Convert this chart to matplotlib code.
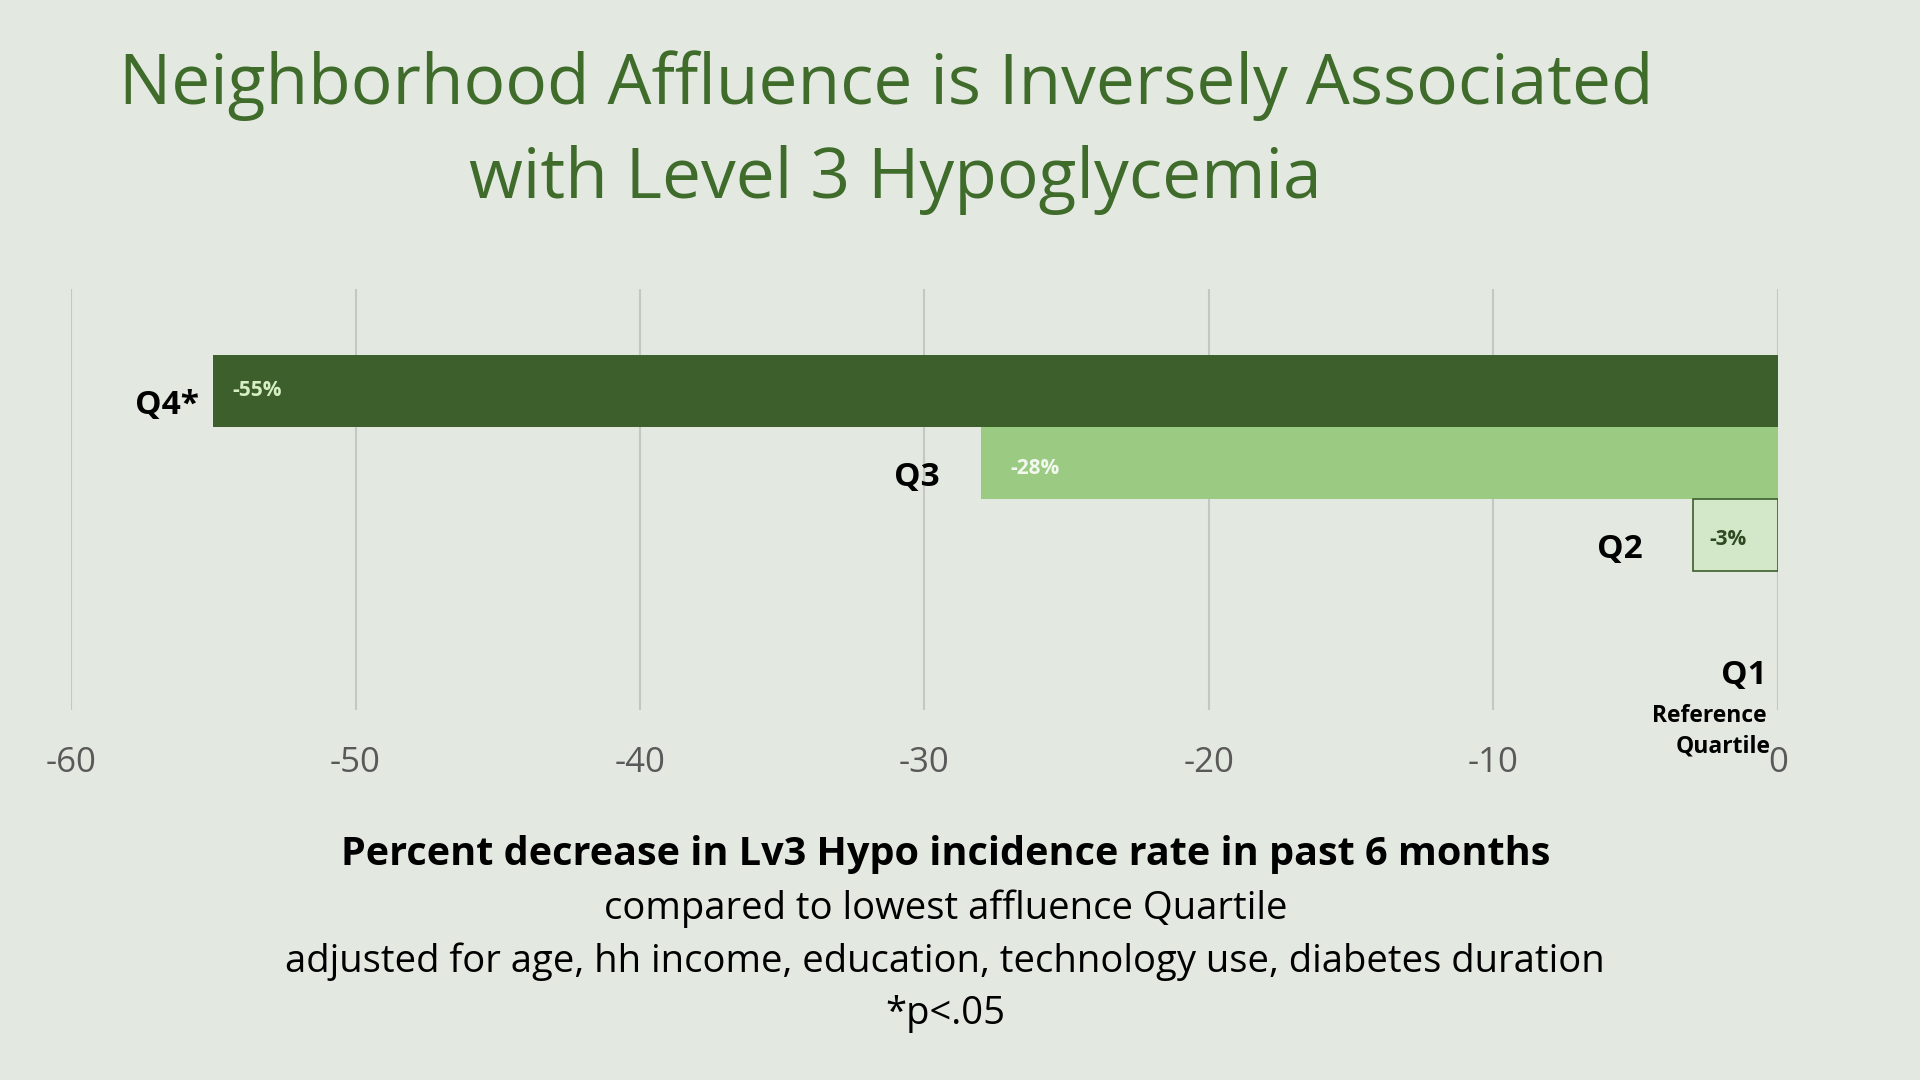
import matplotlib.pyplot as plt

# data
quartiles = ['Q4*', 'Q3', 'Q2', 'Q1']
pct_change = [-55, -28, -3, 0]
value_labels = ['-55%', '-28%', '-3%', '']
ticks = [-60, -50, -40, -30, -20, -10, 0]

bg = '#e3e9e1'
bar_colors = ['#3d5f2b', '#9bcb83', '#d3e8c8', '#d3e8c8']
text_colors = ['#d6efc4', '#f2f8ee', '#2f4a22', '#2f4a22']

plt.rcParams['font.family'] = ['Open Sans', 'DejaVu Sans']

fig = plt.figure(figsize=(19.2, 10.8), dpi=100, facecolor=bg)

# reference is 1568x882, map pixel positions to figure fractions
W, H = 1568.0, 882.0
def fx(px):
    return px / W
def fy(py):
    return 1 - py / H

ax = fig.add_axes([fx(58), fy(580), fx(1452) - fx(58), fy(236) - fy(580)])
ax.set_facecolor(bg)

ypos = list(range(len(quartiles)))
for i in ypos:
    edge = '#3d5f2b' if i == 2 else 'none'
    ax.barh(i, pct_change[i], height=1.0, color=bar_colors[i],
            edgecolor=edge, linewidth=1.2, zorder=3)

ax.set_xlim(-60, 0)
ax.set_ylim(4.42, -1.41)
ax.set_xticks(ticks)
ax.set_xticklabels([str(t) for t in ticks], fontsize=25, color='#595959')
ax.tick_params(axis='x', length=0, pad=26)
ax.set_yticks([])
ax.grid(axis='x', color='#c4c8c2', linewidth=1.5, zorder=0)
for s in ax.spines.values():
    s.set_visible(False)

# value labels inside the bars
val_off = [14, 21, 12]
val_dy = [0, -4, -3]
for i in range(3):
    ax.annotate(value_labels[i], xy=(pct_change[i], i), xytext=(val_off[i], val_dy[i]),
                textcoords='offset points', ha='left', va='center',
                fontsize=15, fontweight='bold', color=text_colors[i], zorder=4)

# quartile names left of each bar
name_off = [-10, -30, -36]
for i in range(3):
    ax.annotate(quartiles[i], xy=(pct_change[i], i + 0.2), xytext=(name_off[i], 0),
                textcoords='offset points', ha='right', va='center',
                fontsize=24, fontweight='bold', color='black')

ax.annotate(quartiles[3], xy=(0, 3), xytext=(-8, -49), textcoords='offset points',
            ha='right', va='center', fontsize=24, fontweight='bold', color='black')
ax.annotate('Reference', xy=(0, 3), xytext=(-8, -78), textcoords='offset points',
            ha='right', va='center', fontsize=16.5, fontweight='bold', color='black')
ax.annotate('Quartile', xy=(0, 3), xytext=(-5, -100), textcoords='offset points',
            ha='right', va='center', fontsize=16.5, fontweight='bold', color='black')

# title
title_color = '#3f6b2b'
fig.text(fx(724), fy(70), 'Neighborhood Affluence is Inversely Associated',
         ha='center', va='center', fontsize=50, color=title_color)
fig.text(fx(731), fy(147), 'with Level 3 Hypoglycemia',
         ha='center', va='center', fontsize=50, color=title_color)

# axis caption
fig.text(fx(772), fy(698), 'Percent decrease in Lv3 Hypo incidence rate in past 6 months',
         ha='center', va='center', fontsize=28.5, fontweight='bold', color='black')
fig.text(fx(772), fy(742), 'compared to lowest affluence Quartile',
         ha='center', va='center', fontsize=27.5, color='black')
fig.text(fx(772), fy(785), 'adjusted for age, hh income, education, technology use, diabetes duration',
         ha='center', va='center', fontsize=27.5, color='black')
fig.text(fx(772), fy(828), '*p<.05',
         ha='center', va='center', fontsize=27.5, color='black')

fig.savefig('out.png', dpi=100, facecolor=bg)
